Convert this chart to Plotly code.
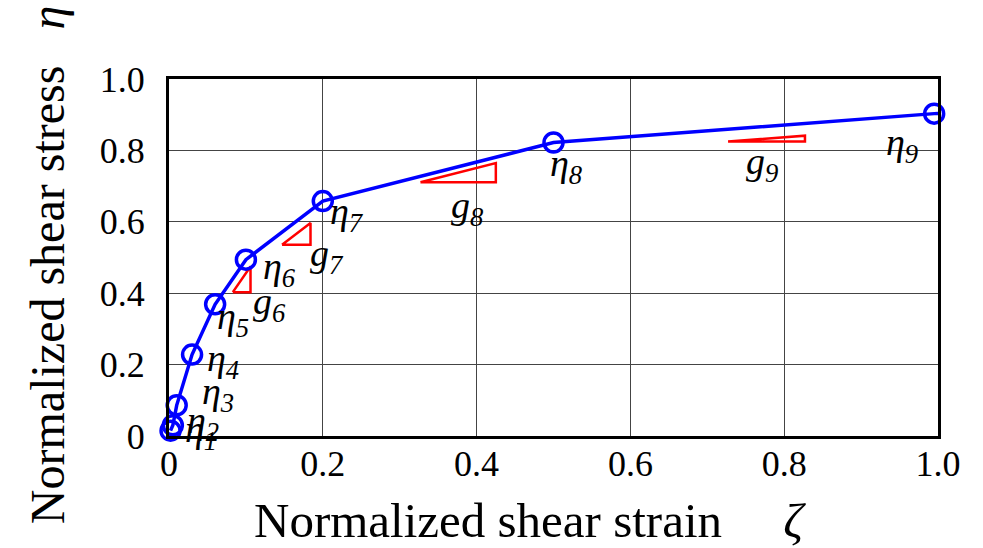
import plotly.graph_objects as go

# ---- data ----
zeta = [0.002, 0.005, 0.010, 0.030, 0.060, 0.100, 0.200, 0.500, 0.995]
eta = [0.015, 0.030, 0.086, 0.228, 0.369, 0.494, 0.658, 0.822, 0.903]
zeta_tail = [1.012]
eta_tail = [0.905]

x_ticks = [0, 0.2, 0.4, 0.6, 0.8, 1.0]
x_ticktext = ["0", "0.2", "0.4", "0.6", "0.8", "1.0"]
y_ticks = [0, 0.2, 0.4, 0.6, 0.8, 1.0]
y_ticktext = ["0", "0.2", "0.4", "0.6", "0.8", "1.0"]

# eta label positions (data coords)
eta_label_x = [0.042, 0.044, 0.064, 0.070, 0.083, 0.144, 0.232, 0.516, 0.953]
eta_label_y = [0.011, 0.036, 0.117, 0.211, 0.328, 0.467, 0.622, 0.756, 0.814]

# slope triangles g6..g9: segment index, left-bottom anchor, width
g_index = [6, 7, 8, 9]
g_anchor_x = [0.083, 0.147, 0.327, 0.727]
g_anchor_y = [0.403, 0.536, 0.711, 0.825]
g_width = [0.023, 0.037, 0.098, 0.100]
g_label_x = [0.131, 0.206, 0.387, 0.771]
g_label_y = [0.369, 0.503, 0.639, 0.761]

FONT = "Liberation Serif"

fig = go.Figure()

# slope triangles
for k, i in enumerate(g_index):
    slope = (eta[i - 1] - eta[i - 2]) / (zeta[i - 1] - zeta[i - 2])
    x0, y0, w = g_anchor_x[k], g_anchor_y[k], g_width[k]
    h = w * slope
    fig.add_trace(go.Scatter(
        x=[x0, x0 + w, x0 + w, x0], y=[y0, y0, y0 + h, y0],
        mode="lines", line=dict(color="#ff0000", width=2.5),
        hoverinfo="skip", showlegend=False))

# curve
fig.add_trace(go.Scatter(
    x=zeta + zeta_tail, y=eta + eta_tail, mode="lines",
    line=dict(color="#0000ff", width=3.5), showlegend=False, cliponaxis=False))
fig.add_trace(go.Scatter(
    x=zeta, y=eta, mode="markers",
    marker=dict(symbol="circle-open", size=19, color="#0000ff",
                line=dict(width=3.5, color="#0000ff")),
    showlegend=False, cliponaxis=False))

annotations = []
for i, (lx, ly) in enumerate(zip(eta_label_x, eta_label_y)):
    annotations.append(dict(
        x=lx, y=ly, xref="x", yref="y", showarrow=False,
        xanchor="center", yanchor="middle",
        text=f"<i>η<sub>{i + 1}</sub></i>",
        font=dict(family=FONT, size=38, color="black")))
for k, i in enumerate(g_index):
    annotations.append(dict(
        x=g_label_x[k], y=g_label_y[k], xref="x", yref="y", showarrow=False,
        xanchor="center", yanchor="middle",
        text=f"<i>g<sub>{i}</sub></i>",
        font=dict(family=FONT, size=38, color="black")))

# axis titles
annotations.append(dict(
    x=0.469, y=-0.238, xref="paper", yref="paper", showarrow=False,
    xanchor="center", yanchor="middle",
    text="Normalized shear strain\u00a0\u00a0\u00a0\u00a0\u00a0<i>ζ</i>",
    font=dict(family=FONT, size=49, color="black")))
annotations.append(dict(
    x=-0.158, y=0.48, xref="paper", yref="paper", showarrow=False,
    xanchor="center", yanchor="middle",
    textangle=-90,
    text="Normalized shear stress\u00a0\u00a0\u00a0<i>η</i>",
    font=dict(family=FONT, size=48, color="black")))

fig.update_layout(
    width=983, height=548,
    margin=dict(l=169, r=45, t=79, b=112),
    paper_bgcolor="white", plot_bgcolor="white",
    font=dict(family=FONT, color="black"),
    annotations=annotations,
    showlegend=False,
)
fig.update_xaxes(
    range=[0, 1.0], tickvals=x_ticks, ticktext=x_ticktext,
    showgrid=True, gridcolor="#444444", gridwidth=1,
    showline=True, mirror=True, linecolor="black", linewidth=3,
    ticks="", ticklabelstandoff=-6, zeroline=False,
    tickfont=dict(family=FONT, size=36, color="black"))
fig.update_yaxes(
    range=[0, 1.0], tickvals=y_ticks, ticktext=y_ticktext,
    showgrid=True, gridcolor="#444444", gridwidth=1,
    showline=True, mirror=True, linecolor="black", linewidth=3,
    ticks="", ticklabelstandoff=14, zeroline=False,
    tickfont=dict(family=FONT, size=36, color="black"))

fig.write_html("out.html")
